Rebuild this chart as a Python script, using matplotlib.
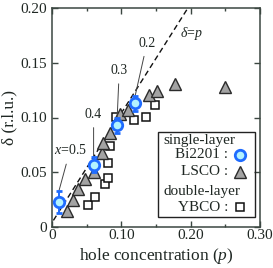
import numpy as np
import matplotlib.pyplot as plt
from matplotlib.patches import Rectangle

plt.rcParams['font.family'] = ['Liberation Serif', 'DejaVu Serif']
plt.rcParams['mathtext.fontset'] = 'custom'
plt.rcParams['mathtext.rm'] = 'Liberation Serif'
plt.rcParams['mathtext.it'] = 'Liberation Serif:italic'

txt = '#1f2723'
spine = '#3b4741'

# Bi2201 (single-layer), labels are La content x
bi_p = [0.010, 0.060, 0.094, 0.120]
bi_d = [0.023, 0.057, 0.093, 0.113]
bi_derr = [0.010, 0.007, 0.007, 0.007]
bi_perr = [0.004, 0.004, 0.004, 0.004]
bi_lbl = ['$x$=0.5', '0.4', '0.3', '0.2']
bi_lbl_p = [0.026, 0.060, 0.097, 0.137]
bi_lbl_d = [0.070, 0.103, 0.143, 0.168]

# LSCO (single-layer)
lsco_p = [0.021, 0.030, 0.038, 0.047, 0.060, 0.072, 0.074, 0.083, 0.098,
          0.110, 0.140, 0.151, 0.178, 0.250]
lsco_d = [0.015, 0.025, 0.035, 0.044, 0.050, 0.068, 0.077, 0.086, 0.103,
          0.107, 0.121, 0.124, 0.131, 0.128]

# YBCO (double-layer)
ybco_p = [0.052, 0.062, 0.076, 0.081, 0.081, 0.084, 0.093, 0.118, 0.135, 0.148]
ybco_d = [0.020, 0.027, 0.039, 0.045, 0.058, 0.074, 0.1005, 0.098, 0.1005, 0.1115]

# delta = p guide
guide_p = [0.002, 0.195]
guide_d = [0.006, 0.199]

xticks = [0, 0.10, 0.20, 0.30]
xticklabels = ['0', '0.10', '0.20', '0.30']
yticks = [0, 0.05, 0.10, 0.15, 0.20]
yticklabels = ['0', '0.05', '0.10', '0.15', '0.20']

fig = plt.figure(figsize=(2.73, 2.68), dpi=100)
ax = fig.add_axes([52/273, 41/268, 208/273, 219/268])

ax.plot(guide_p, guide_d, ls=(0, (4, 2.5)), color='#111111', lw=1.0, zorder=1)

ax.plot(ybco_p, ybco_d, 's', ms=6.2, mfc='white', mec='#111111', mew=1.1, zorder=2)
ax.plot(lsco_p, lsco_d, '^', ms=8.2, mfc='#a3a3a3', mec='#2b2b2b', mew=1.0, zorder=3)
ax.errorbar(bi_p, bi_d, yerr=bi_derr, xerr=bi_perr, fmt='o', ms=7.5,
            mfc='#b3f3ff', mec='#1f6cff', mew=2.0, ecolor='#1f6cff',
            elinewidth=1.4, capsize=2, capthick=1.4, zorder=4)

for lb, lp, ld, p, d, e in zip(bi_lbl, bi_lbl_p, bi_lbl_d, bi_p, bi_d, bi_derr):
    ax.annotate(lb, xy=(p, d + e), xytext=(lp, ld), fontsize=10, color=txt,
                ha='center', va='center',
                arrowprops=dict(arrowstyle='-', color='#444444', lw=0.7,
                                shrinkA=3, shrinkB=0))

ax.text(0.184, 0.177, '$\\delta$=$p$', fontsize=10, color=txt, ha='left', va='center')

ax.set_xlim(0, 0.30)
ax.set_ylim(0, 0.20)
ax.set_xticks(xticks)
ax.set_xticklabels(xticklabels)
ax.set_xticks(np.arange(0.05, 0.30, 0.10), minor=True)
ax.set_yticks(yticks)
ax.set_yticklabels(yticklabels)
ax.tick_params(which='both', direction='in', top=True, right=True, colors=spine,
               labelcolor=txt, labelsize=11, width=1.0)
ax.tick_params(which='major', length=4.5)
ax.tick_params(which='minor', length=2.5)
ax.tick_params(axis='x', pad=1.5)
ax.tick_params(axis='y', pad=3.5)
for s in ax.spines.values():
    s.set_color(spine)
    s.set_linewidth(1.1)

ax.set_xlabel('hole concentration ($p$)', fontsize=12.5, color=txt, labelpad=3)
ax.set_ylabel('\u03b4 (r.l.u.)', fontsize=12.5, color=txt, labelpad=2.5)

# legend box
ax.add_patch(Rectangle((0.510, 0.046), 0.466, 0.388, transform=ax.transAxes,
                       fill=False, ec='#222222', lw=1.0, zorder=5))
lk = dict(transform=ax.transAxes, fontsize=11, color=txt, va='center', zorder=6)
ax.text(0.534, 0.397, 'single-layer', ha='left', **lk)
ax.text(0.846, 0.329, 'Bi2201 :', ha='right', **lk)
ax.text(0.846, 0.2525, 'LSCO :', ha='right', **lk)
ax.text(0.534, 0.161, 'double-layer', ha='left', **lk)
ax.text(0.846, 0.090, 'YBCO :', ha='right', **lk)
ax.plot([0.904], [0.329], 'o', ms=7.5, mfc='#b3f3ff', mec='#1f6cff', mew=2.0,
        transform=ax.transAxes, zorder=6, clip_on=False)
ax.plot([0.904], [0.2525], '^', ms=8.2, mfc='#a3a3a3', mec='#2b2b2b', mew=1.0,
        transform=ax.transAxes, zorder=6, clip_on=False)
ax.plot([0.904], [0.090], 's', ms=6.2, mfc='white', mec='#111111', mew=1.1,
        transform=ax.transAxes, zorder=6, clip_on=False)

fig.savefig('out.png', dpi=100)
